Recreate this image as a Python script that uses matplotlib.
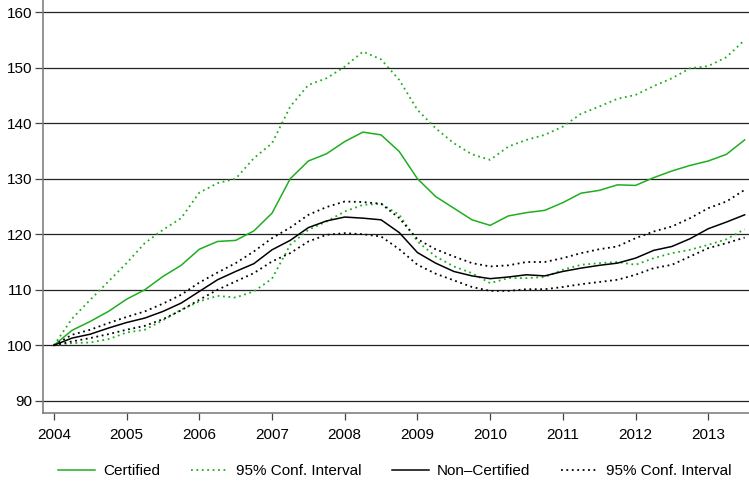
import numpy as np
import matplotlib.pyplot as plt

plt.rcParams['font.family'] = ['Liberation Sans', 'DejaVu Sans']

# quarterly index, 2004Q1 = 100
quarters = np.arange(2004.0, 2013.51, 0.25)

certified = [100.0, 102.7, 104.3, 106.1, 108.3, 110.0, 112.4, 114.4, 117.3, 118.7,
             118.9, 120.6, 123.8, 130.0, 133.2, 134.5, 136.7, 138.4, 137.9, 134.9,
             130.0, 126.8, 124.7, 122.6, 121.6, 123.3, 123.9, 124.3, 125.7, 127.4,
             127.9, 128.9, 128.8, 130.2, 131.4, 132.4, 133.2, 134.4, 137.0]
cert_upper = [100.0, 104.8, 108.2, 111.5, 114.8, 118.4, 120.8, 122.9, 127.5, 129.2,
              130.0, 133.7, 136.4, 143.0, 146.9, 148.1, 150.2, 152.9, 151.5, 147.8,
              142.4, 139.1, 136.4, 134.4, 133.4, 135.8, 137.0, 137.9, 139.4, 141.7,
              143.0, 144.4, 145.1, 146.7, 148.1, 149.9, 150.3, 151.9, 155.0]
cert_lower = [100.0, 100.4, 100.5, 101.1, 102.3, 102.8, 104.5, 106.4, 107.9, 108.9,
              108.6, 109.7, 112.0, 118.1, 120.8, 122.3, 124.1, 125.3, 125.5, 123.5,
              118.7, 116.0, 114.2, 113.0, 111.2, 112.1, 112.1, 112.3, 113.6, 114.5,
              114.8, 115.0, 114.5, 115.7, 116.6, 117.2, 118.1, 119.1, 120.9]
noncert = [100.0, 101.3, 102.0, 103.1, 104.1, 104.9, 106.1, 107.6, 109.7, 111.8,
           113.3, 114.7, 117.2, 118.9, 121.2, 122.4, 123.1, 122.9, 122.6, 120.3,
           116.7, 114.8, 113.3, 112.5, 112.0, 112.3, 112.7, 112.5, 113.3, 113.9,
           114.4, 114.8, 115.7, 117.1, 117.8, 119.2, 121.0, 122.2, 123.5]
noncert_upper = [100.0, 101.9, 102.8, 104.0, 105.1, 106.1, 107.5, 109.1, 111.3, 113.1,
                 114.8, 116.9, 119.3, 121.2, 123.5, 124.9, 125.9, 125.8, 125.5, 122.9,
                 119.1, 117.3, 116.0, 114.8, 114.2, 114.4, 115.0, 115.0, 115.7, 116.6,
                 117.3, 117.8, 119.3, 120.5, 121.4, 122.9, 124.7, 125.9, 128.0]
noncert_lower = [100.0, 100.7, 101.3, 102.0, 102.8, 103.5, 104.7, 106.3, 108.2, 110.0,
                 111.5, 113.0, 115.1, 116.6, 118.7, 119.9, 120.2, 120.0, 119.6, 117.3,
                 114.5, 112.9, 111.7, 110.5, 109.8, 109.8, 110.1, 110.1, 110.5, 111.0,
                 111.4, 111.8, 112.7, 113.9, 114.5, 116.0, 117.5, 118.4, 119.4]

years = list(range(2004, 2014))
yticks = list(range(90, 161, 10))

green = '#1fae1f'
dot = (0, (1, 2))

fig = plt.figure(figsize=(7.49, 4.86), dpi=100)
ax = fig.add_axes([43 / 749, 73 / 486, 706 / 749, 413 / 486])

for y in yticks:
    ax.axhline(y, color='#222222', lw=0.9, zorder=1)

ax.plot(quarters, certified, color=green, lw=1.1, label='Certified', zorder=3)
ax.plot(quarters, cert_upper, color=green, lw=1.3, ls=dot, label='95% Conf. Interval', zorder=3)
ax.plot(quarters, cert_lower, color=green, lw=1.3, ls=dot, zorder=3)
ax.plot(quarters, noncert, color='black', lw=1.1, label='Non\u2013Certified', zorder=3)
ax.plot(quarters, noncert_upper, color='black', lw=1.3, ls=dot, label='95% Conf. Interval', zorder=3)
ax.plot(quarters, noncert_lower, color='black', lw=1.3, ls=dot, zorder=3)

ax.set_xlim(2003.85, 2013.56)
ax.set_ylim(87.8, 162.2)
ax.set_xticks(years)
ax.set_yticks(yticks)
ax.tick_params(labelsize=11, width=0.9, color='#444444')
ax.tick_params(axis='x', length=5, pad=6)
ax.tick_params(axis='y', length=6, pad=2)

for s in ['top', 'right']:
    ax.spines[s].set_visible(False)
for s in ['left', 'bottom']:
    ax.spines[s].set_color('#777777')
    ax.spines[s].set_linewidth(1.1)

fig.legend(loc='center', bbox_to_anchor=(395 / 749, 1 - 471 / 486), ncol=4,
           frameon=False, fontsize=11, handlelength=2.4, handletextpad=0.55,
           columnspacing=2.0)

fig.savefig('out.png', dpi=100)
